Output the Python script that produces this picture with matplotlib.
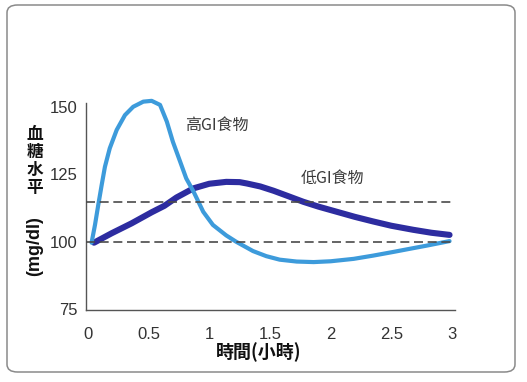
import matplotlib.pyplot as plt
from matplotlib.patches import FancyBboxPatch

# values
hours_high = [0.03, 0.058, 0.085, 0.113, 0.14, 0.18, 0.237, 0.305, 0.373, 0.456, 0.525,
              0.594, 0.65, 0.70, 0.76, 0.81, 0.87, 0.95, 1.03, 1.14, 1.22, 1.36, 1.47,
              1.58, 1.72, 1.86, 2.0, 2.19, 2.35, 2.52, 2.66, 2.79, 2.98]
glucose_high = [99.6, 106.2, 113.6, 121.0, 127.8, 134.7, 141.5, 147.0, 150.1, 152.0, 152.3,
                150.8, 144.6, 137.1, 129.7, 123.5, 118.6, 111.1, 106.2, 102.3, 100.0, 96.5, 94.6,
                93.3, 92.6, 92.4, 92.7, 93.6, 94.8, 96.2, 97.4, 98.5, 100.2]

hours_low = [0.05, 0.195, 0.36, 0.525, 0.63, 0.73, 0.87, 1.0, 1.14, 1.25, 1.31, 1.42,
             1.53, 1.65, 1.775, 1.9, 2.05, 2.2, 2.35, 2.5, 2.68, 2.83, 2.98]
glucose_low = [99.6, 103.1, 106.8, 110.9, 113.3, 116.4, 119.8, 121.5, 122.2, 122.1, 121.6, 120.5,
               118.9, 116.9, 114.8, 113.0, 111.1, 109.2, 107.5, 105.9, 104.4, 103.3, 102.5]

ref_lines = [100, 114.6]
x_ticks = [0, 0.5, 1, 1.5, 2, 2.5, 3]
x_labels = ["0", "0.5", "1", "1.5", "2", "2.5", "3"]
y_ticks = [75, 100, 125, 150]

latin = ['Liberation Sans', 'Noto Sans CJK TC']
cjk = ['Noto Sans CJK TC', 'DejaVu Sans']

fig = plt.figure(figsize=(5.27, 3.82), dpi=100)
fig.patch.set_facecolor("white")

# rounded outer frame
frame = FancyBboxPatch((7 / 527, 1 - 372 / 382), 508 / 527, 367 / 382,
                       boxstyle="round,pad=0,rounding_size=0.02",
                       transform=fig.transFigure, facecolor="none",
                       edgecolor="#8a8a8a", linewidth=1.1, zorder=0)
fig.patches.append(frame)

ax = fig.add_axes([86 / 527, 1 - 310 / 382, 369 / 527, 207 / 382])
ax.set_facecolor("none")

ax.plot(hours_low, glucose_low, color="#2d2ca0", linewidth=4.4, solid_capstyle="round",
        solid_joinstyle="round", clip_on=False, zorder=2)
ax.plot(hours_high, glucose_high, color="#3d9bdb", linewidth=3.0, solid_capstyle="round",
        solid_joinstyle="round", clip_on=False, zorder=2.5)

for v in ref_lines:
    ax.axhline(v, color="#4a4a4a", linewidth=1.2, dashes=(5.4, 2.8), zorder=3)

ax.set_xlim(-0.016, 3.025)
ax.set_ylim(74.6, 151.5)

for s in ["top", "right"]:
    ax.spines[s].set_visible(False)
for s in ["left", "bottom"]:
    ax.spines[s].set_color("#555555")
    ax.spines[s].set_linewidth(1.0)

ax.set_xticks(x_ticks)
ax.set_xticklabels(x_labels)
ax.set_yticks(y_ticks)
ax.tick_params(axis="x", length=0, pad=12, labelsize=12, labelcolor="#333333")
ax.tick_params(axis="y", length=0, pad=6, labelsize=12, labelcolor="#333333")
ax.set_yticks([75], minor=True)
ax.tick_params(axis="y", which="minor", length=5, color="#555555")
for lab in ax.get_xticklabels() + ax.get_yticklabels():
    lab.set_family(latin)

ax.text(0.80, 143.3, "高GI食物", family=cjk, fontsize=11.5, color="#3a3a3a", va="center")
ax.text(1.75, 123.6, "低GI食物", family=cjk, fontsize=11.5, color="#3a3a3a", va="center")

fig.text(259 / 527, 1 - 352 / 382, "時間(小時)", family=cjk, fontsize=13,
         fontweight="bold", ha="center", va="center", color="#111111")
fig.text(35 / 527, 1 - 161 / 382, "血\n糖\n水\n平", family=cjk, fontsize=12,
         fontweight="bold", ha="center", va="center", linespacing=1.0, color="#111111")
fig.text(35 / 527, 1 - 246 / 382, "(mg/dl)", family=latin, fontsize=13,
         fontweight="bold", rotation=90, ha="center", va="center", color="#111111")

fig.savefig("out.png", dpi=100)
